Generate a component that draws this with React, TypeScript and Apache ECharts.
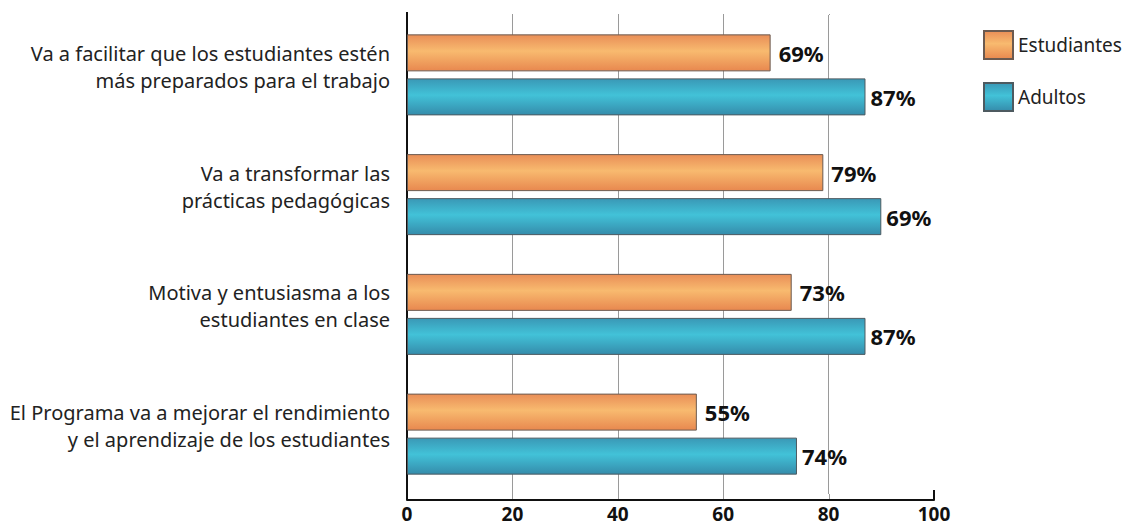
import React, { useEffect, useRef } from "react";
import * as echarts from "echarts";

const categories = [
  "Va a facilitar que los estudiantes estén\nmás preparados para el trabajo",
  "Va a transformar las\nprácticas pedagógicas",
  "Motiva y entusiasma a los\nestudiantes en clase",
  "El Programa va a mejorar el rendimiento\ny el aprendizaje de los estudiantes",
];
const seriesNames = ["Estudiantes", "Adultos"];
const estudiantes = [69, 79, 73, 55];
const adultos = [87, 90, 87, 74];
const estudiantesLabels = ["69%", "79%", "73%", "55%"];
const adultosLabels = ["87%", "69%", "87%", "74%"];
const gridValues = [20, 40, 60, 80];
const endTicks = [0, 100];

const FONT = "Noto Sans";

function orangeGrad() {
  return new echarts.graphic.LinearGradient(0, 0, 0, 1, [
    { offset: 0, color: "#E98E57" },
    { offset: 0.45, color: "#F8BA6F" },
    { offset: 1, color: "#E8884F" },
  ]);
}
function blueGrad() {
  return new echarts.graphic.LinearGradient(0, 0, 0, 1, [
    { offset: 0, color: "#3A98B6" },
    { offset: 0.45, color: "#42C2D8" },
    { offset: 1, color: "#358CAB" },
  ]);
}

export default function App() {
  const ref = useRef<HTMLDivElement>(null);
  useEffect(() => {
    if (!ref.current) return;
    const chart = echarts.init(ref.current, null, { renderer: "svg" });
    const gridTop = 15;
    const gridHeight = 479;
    const axisOffset = 6;
    chart.setOption({
      animation: false,
      backgroundColor: "#ffffff",
      grid: { left: 407, width: 527, top: gridTop, height: gridHeight, containLabel: false },
      legend: {
        orient: "vertical",
        left: 983,
        top: 30,
        padding: 0,
        itemWidth: 29,
        itemHeight: 28,
        itemGap: 22,
        textStyle: { fontFamily: FONT, fontSize: 19, color: "#222" },
        data: seriesNames.map((n) => ({ name: n, icon: "rect" })),
      },
      xAxis: {
        type: "value",
        min: 0,
        max: 100,
        interval: 20,
        offset: axisOffset,
        axisLine: { show: true, lineStyle: { color: "#111", width: 2 } },
        axisTick: { show: false },
        axisLabel: {
          margin: 4,
          fontFamily: FONT,
          fontSize: 19,
          fontWeight: "bold",
          color: "#111",
        },
        splitLine: {
          show: true,
          showMinLine: false,
          showMaxLine: false,
          lineStyle: { color: "#9a9a9a", width: 1 },
        },
      },
      yAxis: {
        type: "category",
        inverse: true,
        data: categories,
        axisLine: { show: true, lineStyle: { color: "#111", width: 2 } },
        axisTick: { show: false },
        axisLabel: {
          margin: 17,
          fontFamily: FONT,
          fontSize: 20,
          lineHeight: 27,
          color: "#222",
          align: "right",
          formatter: (v: string) => v + "\n{s|}",
          rich: { s: { lineHeight: 16, fontSize: 10 } },
        },
      },
      series: [
        {
          name: seriesNames[0],
          type: "bar",
          data: estudiantes,
          barWidth: 37,
          barGap: "19%",
          itemStyle: { color: orangeGrad(), borderColor: "#6b5a50", borderWidth: 1 },
          label: {
            show: true,
            position: "right",
            distance: 8,
            fontFamily: FONT,
            fontSize: 22,
            fontWeight: "bold",
            color: "#111",
            formatter: (p: any) => estudiantesLabels[p.dataIndex],
          },
        },
        {
          name: seriesNames[1],
          type: "bar",
          data: adultos,
          barWidth: 37,
          barGap: "19%",
          itemStyle: { color: blueGrad(), borderColor: "#4d5a60", borderWidth: 1 },
          label: {
            show: true,
            position: "right",
            distance: 5,
            fontFamily: FONT,
            fontSize: 22,
            fontWeight: "bold",
            color: "#111",
            formatter: (p: any) => adultosLabels[p.dataIndex],
          },
        },
      ],
    });
    const bottom = gridTop + gridHeight;
    const x0 = chart.convertToPixel({ xAxisIndex: 0 }, 0) as number;
    const graphics: any[] = [];
    gridValues.forEach((v) => {
      const x = Math.round(chart.convertToPixel({ xAxisIndex: 0 }, v) as number) + 0.5;
      graphics.push({
        type: "line",
        silent: true,
        shape: { x1: x, y1: bottom, x2: x, y2: bottom + axisOffset },
        style: { stroke: "#9a9a9a", lineWidth: 1 },
      });
      graphics.push({
        type: "line",
        silent: true,
        shape: { x1: x, y1: 14, x2: x, y2: gridTop },
        style: { stroke: "#9a9a9a", lineWidth: 1 },
      });
    });
    graphics.push({
      type: "line",
      silent: true,
      shape: { x1: x0, y1: bottom, x2: x0, y2: bottom + axisOffset },
      style: { stroke: "#111", lineWidth: 2 },
    });
    graphics.push({
      type: "line",
      silent: true,
      shape: { x1: x0, y1: 12, x2: x0, y2: gridTop },
      style: { stroke: "#111", lineWidth: 2 },
    });
    endTicks.forEach((v) => {
      const x = chart.convertToPixel({ xAxisIndex: 0 }, v) as number;
      graphics.push({
        type: "line",
        silent: true,
        shape: { x1: x, y1: bottom + axisOffset - 10, x2: x, y2: bottom + axisOffset },
        style: { stroke: "#111", lineWidth: 2 },
      });
    });
    chart.setOption({ graphic: graphics });
    return () => chart.dispose();
  }, []);
  return (
    <div
      ref={ref}
      style={{ position: "fixed", left: 0, top: 0, width: 1129, height: 527, background: "#fff" }}
    />
  );
}
